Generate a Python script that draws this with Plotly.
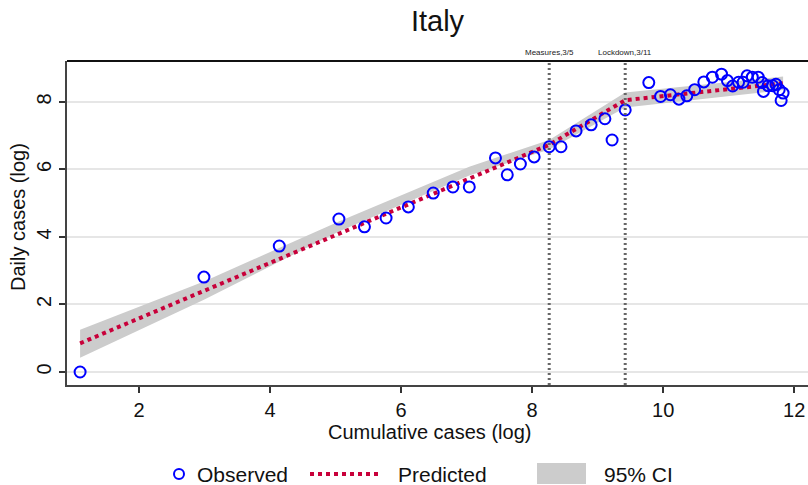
import plotly.graph_objects as go

# Observed (log cumulative cases, log daily cases)
obs_x = [1.10, 2.99, 4.14, 5.05, 5.44, 5.77, 6.11, 6.49, 6.79, 7.04, 7.44, 7.62, 7.82, 8.03,
         8.26, 8.44, 8.67, 8.90, 9.11, 9.22, 9.42, 9.78, 9.96, 10.11, 10.24, 10.36, 10.48,
         10.62, 10.75, 10.89, 10.98, 11.06, 11.15, 11.22, 11.28, 11.36, 11.45, 11.51, 11.53,
         11.60, 11.67, 11.72, 11.77, 11.83, 11.80]
obs_y = [0.00, 2.81, 3.73, 4.53, 4.30, 4.56, 4.89, 5.30, 5.48, 5.48, 6.34, 5.84, 6.16, 6.37,
         6.67, 6.67, 7.14, 7.32, 7.50, 6.87, 7.76, 8.57, 8.16, 8.21, 8.08, 8.18, 8.36,
         8.59, 8.73, 8.82, 8.63, 8.47, 8.58, 8.58, 8.77, 8.73, 8.73, 8.57, 8.31,
         8.48, 8.48, 8.52, 8.36, 8.26, 8.04]

# Predicted (piecewise linear fit)
pred_x = [1.10, 8.26, 9.42, 11.83]
pred_y = [0.85, 6.73, 8.05, 8.55]

# 95% confidence band
ci_x = [1.10, 2.99, 5.05, 7.04, 8.26, 9.42, 11.83]
ci_up = [1.25, 2.68, 4.46, 6.08, 6.87, 8.28, 8.75]
ci_lo = [0.42, 2.14, 4.16, 5.82, 6.59, 7.83, 8.35]

# Interventions
event_x = [8.26, 9.42]
event_labels = ["Measures,3/5", "Lockdown,3/11"]

x_ticks = [2, 4, 6, 8, 10, 12]
y_ticks = [0, 2, 4, 6, 8]

FONT = "Liberation Sans, Arial, sans-serif"
BLUE = "#0000ff"
RED = "#c8003a"
GRAY = "#cccccc"

fig = go.Figure()

fig.add_trace(go.Scatter(x=ci_x, y=ci_lo, mode="lines", line=dict(width=0, color=GRAY),
                         hoverinfo="skip", showlegend=False))
fig.add_trace(go.Scatter(x=ci_x, y=ci_up, mode="lines", line=dict(width=0, color=GRAY),
                         fill="tonexty", fillcolor=GRAY, name="95% CI", showlegend=False))
fig.add_trace(go.Scatter(x=pred_x, y=pred_y, mode="lines",
                         line=dict(color=RED, width=4, dash="4px,4px"),
                         name="Predicted", showlegend=False))
fig.add_trace(go.Scatter(x=obs_x, y=obs_y, mode="markers",
                         marker=dict(symbol="circle-open", size=11, color=BLUE,
                                     line=dict(width=2, color=BLUE)),
                         name="Observed", showlegend=False))

shapes = []
annotations = []
for ex, lab in zip(event_x, event_labels):
    shapes.append(dict(type="line", xref="x", yref="paper", x0=ex, x1=ex, y0=0, y1=1,
                       line=dict(color="#666666", width=3, dash="2px,3px"), layer="above"))
    annotations.append(dict(x=ex, y=1, xref="x", yref="paper", yanchor="bottom",
                            yshift=2, text=lab, showarrow=False,
                            font=dict(size=8, color="#222222", family=FONT)))

def px_to_paper_x(px):
    return (px - 67) / (808 - 67)

def py_to_paper_y(py):
    return (385 - py) / (385 - 61)

# Axis titles
annotations.append(dict(x=px_to_paper_x(429), y=py_to_paper_y(432), xref="paper",
                        yref="paper", xanchor="center", yanchor="middle",
                        text="Cumulative cases (log)", showarrow=False,
                        font=dict(size=20, color="#111111", family=FONT)))
annotations.append(dict(x=px_to_paper_x(18), y=py_to_paper_y(217), xref="paper",
                        yref="paper", xanchor="center", yanchor="middle", textangle=-90,
                        text="Daily cases (log)", showarrow=False,
                        font=dict(size=20, color="#111111", family=FONT)))

# Legend (drawn in paper space below the plot)
ly = py_to_paper_y(474)
shapes.append(dict(type="circle", xref="paper", yref="paper",
                   x0=px_to_paper_x(174), x1=px_to_paper_x(184),
                   y0=py_to_paper_y(479), y1=py_to_paper_y(469),
                   line=dict(color=BLUE, width=2)))
shapes.append(dict(type="line", xref="paper", yref="paper",
                   x0=px_to_paper_x(310), x1=px_to_paper_x(382), y0=ly, y1=ly,
                   line=dict(color=RED, width=4, dash="4px,4px")))
shapes.append(dict(type="rect", xref="paper", yref="paper",
                   x0=px_to_paper_x(537), x1=px_to_paper_x(586),
                   y0=py_to_paper_y(484), y1=py_to_paper_y(463),
                   fillcolor=GRAY, line=dict(width=0)))
for px, txt in [(195, "Observed"), (396, "Predicted"), (602, "95% CI")]:
    annotations.append(dict(x=px_to_paper_x(px), y=ly, xref="paper", yref="paper",
                            xanchor="left", yanchor="middle", text=txt, showarrow=False,
                            font=dict(size=21, color="#111111", family=FONT)))

fig.update_layout(
    width=808, height=485,
    margin=dict(l=67, r=0, t=61, b=100),
    paper_bgcolor="white", plot_bgcolor="white",
    font=dict(family=FONT, color="#111111"),
    title=dict(text="Italy", x=(437.5 / 808), xanchor="center", y=1 - 21 / 485,
               yanchor="middle", font=dict(size=29, family=FONT, color="#111111")),
    showlegend=False,
    shapes=shapes, annotations=annotations,
)
fig.update_xaxes(
    range=[0.9, 12.21], tickvals=x_ticks, ticks="outside", ticklen=6, tickwidth=1.5,
    tickcolor="#333333", showline=True, linecolor="#444444", linewidth=2, mirror=False,
    showgrid=False, zeroline=False, tickfont=dict(size=20, family=FONT, color="#111111"),
)
fig.update_yaxes(
    range=[-0.385, 9.21], tickvals=y_ticks, ticks="outside", ticklen=6, tickwidth=1.5,
    tickcolor="#333333", showline=True, linecolor="#444444", linewidth=2,
    showgrid=True, gridcolor="#e6e6e6", gridwidth=2, zeroline=False, tickangle=-90,
    tickfont=dict(size=20, family=FONT, color="#111111"),
)
fig.add_shape(type="line", xref="paper", yref="paper", x0=0, x1=1, y0=1, y1=1,
              line=dict(color="#111111", width=2))

fig.write_html("out.html")
